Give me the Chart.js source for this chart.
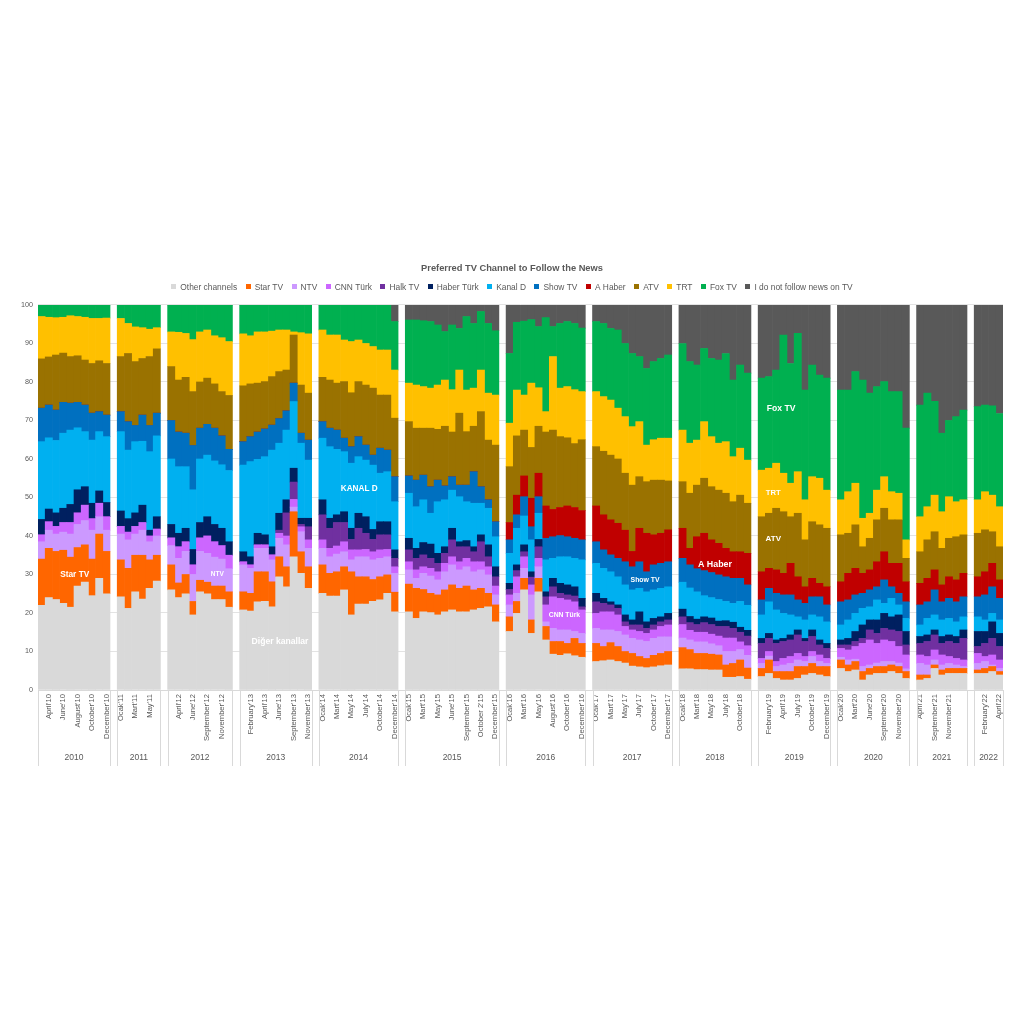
<!DOCTYPE html>
<html lang="en">
<head>
<meta charset="utf-8">
<title>Preferred TV Channel to Follow the News</title>
<script src="https://cdn.jsdelivr.net/npm/chart.js@4.4.1/dist/chart.umd.min.js"></script>
<style>
html,body{margin:0;padding:0;background:#ffffff;}
#box{position:relative;width:1024px;height:1024px;}
</style>
</head>
<body>
<div id="box"><canvas id="chart" width="1024" height="1024"></canvas></div>
<script>
const FONT = '"Liberation Sans", Arial, Helvetica, sans-serif';
const TEXT_COLOR = '#595959';
const chartTitle = 'Preferred TV Channel to Follow the News';

const years = ['2010','2011','2012','2013','2014','2015','2016','2017','2018','2019','2020','2021','2022'];
const yearSizes = [10, 6, 9, 10, 11, 13, 11, 11, 10, 10, 10, 7, 4];

const monthLabels = [
  '', "April'10", '', "June'10", '', "August'10", '', "October'10", '', "December'10",
  "Ocak'11", '', "Mart'11", '', "May'11", '',
  '', "April'12", '', "June'12", '', "September'12", '', "November'12", '',
  '', "February'13", '', "April'13", '', "June'13", '', "September'13", '', "November'13",
  "Ocak'14", '', "Mart'14", '', "May'14", '', "July'14", '', "October'14", '', "December'14",
  "Ocak'15", '', "Mart'15", '', "May'15", '', "June'15", '', "September'15", '', "October 2'15", '', "December'15",
  "Ocak'16", '', "Mart'16", '', "May'16", '', "August'16", '', "October'16", '', "December'16",
  "Ocak'17", '', "Mart'17", '', "May'17", '', "July'17", '', "October'17", '', "December'17",
  "Ocak'18", '', "Mart'18", '', "May'18", '', "July'18", '', "October'18", '',
  '', "February'19", '', "April'19", '', "July'19", '', "October'19", '', "December'19",
  "Ocak'20", '', "Mart'20", '', "June'20", '', "September'20", '', "November'20", '',
  "April'21", '', "September'21", '', "November'21", '', '',
  '', "February'22", '', "April'22"
];

const seriesNames = ['Other channels','Star TV','NTV','CNN Türk','Halk TV','Haber Türk','Kanal D','Show TV','A Haber','ATV','TRT','Fox TV','I do not follow news on TV'];
const seriesColors = ['#D9D9D9','#FF6600','#CC99FF','#CC66FF','#7030A0','#002060','#00B0F0','#0070C0','#C00000','#9A7200','#FFC000','#00B050','#595959'];

const otherChannels = [
  22, 24, 23.5, 22.5, 21.5, 27, 28, 24.5, 29, 25,
  24.2, 21.2, 25.5, 23.6, 26.4, 28.3,
  26, 24, 25, 19.5, 25.5, 25, 23.5, 23.5, 21.5,
  20.8, 20.5, 22.9, 23, 21.6, 29.4, 26.8, 34.6, 30.3, 26.4,
  25.1, 24.4, 24.4, 26, 19.5, 22.3, 22.3, 23, 23.4, 25.1, 20.3,
  20.3, 18.6, 20.3, 20.1, 19.5, 20.3, 20.8, 20.3, 20.3, 20.8, 21.2, 21.6, 17.7,
  15.2, 19.9, 26, 14.7, 25.5, 13, 9.3, 9.0, 9.4, 8.9, 8.5,
  7.4, 7.6, 7.8, 7.4, 7, 6.2, 6, 5.8, 6, 6.3, 6.5,
  5.5, 5.5, 5.3, 5.3, 5.2, 5.2, 3.3, 3.3, 3.5, 2.8,
  3.5, 4.3, 3, 2.6, 2.6, 3, 3.9, 4.3, 3.9, 3.5,
  5.6, 4.8, 5.2, 2.6, 3.9, 4.3, 4.3, 4.8, 4.3, 3,
  2.6, 3, 5.6, 3.9, 4.3, 4.3, 4.3,
  4.3, 4.3, 4.8, 3.9
];
const starTV = [
  12, 12.8, 12.5, 13.8, 13, 10, 9.7, 9.5, 11.5, 11,
  9.6, 10.4, 9.5, 11.4, 7.4, 6.7,
  6.5, 3.8, 5, 3.5, 3, 3, 3.5, 3.5, 4,
  4.7, 4.6, 7.8, 7.7, 6.5, 5.2, 5.2, 11.7, 5.6, 5.6,
  7.4, 5.9, 6.3, 6, 11.2, 7.1, 7.1, 5.7, 6, 4.8, 5.1,
  7.2, 7.8, 5.8, 5, 5.2, 5.7, 6.5, 6.1, 6.7, 5.2, 5.2, 3.5, 4.4,
  3.8, 3.1, 3, 3.5, 3.5, 3.5, 3.3, 3.6, 2.7, 4.5, 3.6,
  4.7, 3.7, 4.5, 3.9, 3, 3.3, 2.7, 2.4, 3, 3.2, 3.5,
  5.5, 5, 4.2, 4.2, 4.1, 3.9, 3.2, 3.6, 4.3, 2.9,
  2.1, 3.5, 1.8, 2.2, 2.2, 3.1, 2.2, 2.6, 2.2, 2.6,
  2.2, 1.7, 2.2, 2.2, 1.7, 1.8, 1.8, 1.7, 1.8, 1.8,
  1.3, 0.9, 0.9, 1.3, 1.3, 1.3, 1.3,
  0.9, 1.3, 1.3, 0.9
];
const ntv = [
  4.5, 4.7, 4.5, 4.7, 6, 6, 6.3, 7.5, 4.5, 5.5,
  6.7, 7.4, 5.5, 6.5, 4.7, 5,
  5, 6.4, 6, 7, 7.5, 7.5, 7.5, 7, 6,
  7, 6.5, 6.1, 6.1, 5.7, 4.8, 5.7, 1.2, 5.2, 4.8,
  4.3, 4.3, 4.6, 3.9, 3.1, 5.2, 5.2, 5.1, 4.8, 4.7, 4.9,
  3.7, 2.6, 4.2, 4.5, 3.9, 4.7, 5.2, 4.8, 5, 4.7, 4.8, 4.8, 2.6,
  3.1, 2.1, 2.6, 6.5, 3, 1.2, 3.4, 3, 3.5, 1.8, 2.6,
  3.9, 4.3, 3.3, 3.9, 4.3, 3.9, 4.3, 4.4, 4.4, 4.3, 3.8,
  2.5, 2.5, 3, 3, 2.7, 2.4, 3.5, 3.1, 2.7, 3.3,
  1.3, 1, 1.3, 1.7, 2.1, 1.7, 1.3, 1.8, 1.3, 0.8,
  0.7, 1.3, 0.6, 1.3, 0.9, 0.9, 1.3, 0.9, 0.9, 0.7,
  3, 2.6, 1.3, 1.3, 1.3, 0.9, 0.5,
  1.7, 1.8, 0.4, 0.8
];
const cnnTurk = [
  1.8, 2.2, 2, 2.5, 3, 3, 4, 3, 3.5, 3.5,
  2, 2, 2, 2, 1.5, 1.8,
  2, 3, 2.5, 2.5, 3.5, 4.5, 4, 3.5, 3.5,
  0.8, 0.9, 0.9, 0.9, 1.3, 1.3, 2.3, 2, 1.3, 2.2,
  2.2, 2.2, 2.1, 2.6, 2.6, 1.8, 1.9, 2.1, 2.2, 1.9, 1.7,
  2.1, 2.2, 1.7, 2, 2.1, 2.2, 2.1, 2.1, 2.2, 2.6, 2.1, 2.1, 2.3,
  2.6, 4.3, 3, 2.6, 2.2, 4.4, 8.2, 8.2, 7.8, 7.7, 6.1,
  3.9, 4.7, 4.7, 4.3, 2.2, 2.2, 2.2, 2.1, 2.2, 2.7, 3.1,
  3.5, 2.5, 2.5, 2.5, 2.5, 2.5, 3.5, 3.5, 2, 2.5,
  1.3, 1.2, 1.3, 1.7, 1.8, 1.7, 1.3, 1.3, 1.7, 1.3,
  2.3, 2.6, 3.3, 6, 6.5, 5.1, 5.6, 5.2, 4.3, 3.6,
  2.2, 2.2, 2.6, 2.6, 1.8, 1.7, 1.7,
  2.6, 1.3, 2.6, 2.2
];
const halkTV = [
  0, 0, 0, 0, 0, 0, 0, 0, 0, 0,
  0, 0, 0, 0, 0, 0,
  0, 0, 0, 0, 0, 0, 0, 0, 0,
  0, 0, 0, 0, 0, 0.8, 6, 4.5, 0.6, 3.4,
  6.5, 5.2, 6.1, 5, 2.7, 5.6, 4.2, 3.2, 3.9, 3.8, 2.2,
  3.1, 3, 3.1, 2.6, 2.2, 2.6, 4.4, 3.9, 3, 2.6, 5.2, 2.6, 2.4,
  1.4, 1.6, 1.3, 2, 3, 2.1, 2.6, 1.3, 1.3, 1.5, 0.8,
  3, 2.2, 1.8, 1.7, 1.2, 1.3, 1.7, 1.3, 1.3, 1.2, 1.3,
  2, 2, 2, 2.5, 2.5, 2.5, 3, 2.5, 2.5, 2.5,
  3.9, 3.4, 4.7, 4.4, 4.3, 4.8, 3.9, 3.9, 2.6, 2.6,
  0.9, 1.3, 1.3, 1.3, 2.6, 2.6, 3, 3, 3.9, 2.6,
  3, 3.9, 3.9, 3, 3.9, 3.9, 5.6,
  1.8, 3.4, 4.3, 3.5
];
const haberTurk = [
  4, 3.3, 3.5, 3.7, 4.7, 6, 4.8, 4, 3.2, 3.7,
  4, 3.5, 3.5, 4.5, 1.5, 3.2,
  3.5, 3.5, 3.5, 4, 4, 5, 4.5, 4.5, 3.5,
  2.6, 2.1, 3, 2.6, 2.1, 4.4, 3.4, 3.6, 1.6, 2.2,
  3.9, 2.6, 2, 2.8, 2.9, 3.9, 4.3, 2.6, 3.4, 3.4, 2.2,
  3, 2.6, 3.2, 3.7, 2.6, 1.7, 3, 1.3, 1.6, 1.3, 1.8, 3.1, 2.6,
  1.6, 1.5, 1.8, 1.4, 1.9, 1.3, 2.2, 2.6, 2.6, 2.4, 2.2,
  2.2, 1.3, 0.8, 0.9, 1.8, 1.3, 3.4, 1.7, 1.7, 1.3, 1.7,
  2, 1.6, 1.4, 1.5, 1.7, 1.4, 1.5, 1.6, 1.3, 1.5,
  1.3, 1.3, 0.9, 0.8, 1.3, 1.3, 0.8, 1.7, 1.3, 1.3,
  1.3, 1.7, 2.6, 3.5, 2.6, 3.5, 3.9, 3.4, 4.3, 3.5,
  1.8, 1.7, 1.3, 1.8, 1.7, 1.8, 2.2,
  3.9, 3.1, 4.3, 3.4
];
const kanalD = [
  20.2, 18.5, 18.8, 19.5, 19.3, 16.1, 14.3, 16.4, 15.4, 17.1,
  20.6, 17.8, 18.5, 16.6, 20.4, 21,
  17, 17.3, 16, 15.5, 16.5, 16, 16.5, 16.5, 18.5,
  22.5, 24.7, 19.2, 20.3, 25.1, 18.2, 18.1, 17.3, 19.5, 15.1,
  16, 18.6, 17, 15.6, 16.9, 14.7, 14.7, 16.7, 12.6, 13, 12.5,
  11.7, 10.8, 11.1, 8, 13.4, 12.2, 9.9, 11.7, 10.1, 11.3, 8.2, 9.5, 7.8,
  7.8, 9.5, 7.5, 8.3, 6.8, 8.3, 5.2, 6.9, 7.3, 7.4, 10,
  7.8, 7.8, 7.8, 7.3, 7.8, 7.8, 6.1, 7.8, 7.4, 7.4, 6.9,
  7, 7.4, 7.1, 5.5, 5.3, 5.6, 5, 4.9, 6.7, 6.5,
  6.1, 8.2, 7.8, 6.5, 5.2, 3.4, 4.8, 3.9, 6, 5.6,
  3.9, 4.8, 4.7, 4.3, 3.4, 5.2, 2.6, 4.8, 2.6, 3.4,
  3, 4.3, 3.9, 4.3, 4.3, 3.8, 3.4,
  3.8, 3, 2.2, 3.5
];
const showTV = [
  8.7, 8.5, 7.9, 8, 7, 6.6, 6.9, 7, 5.2, 5.6,
  5.2, 7.4, 4.2, 6.8, 6.8, 5.9,
  10, 9, 8.7, 11.5, 8, 8, 8.5, 7.5, 5.5,
  6.1, 6.5, 7.1, 7.2, 6.5, 6.4, 5, 4.8, 2.6, 5.2,
  4.3, 4.8, 5, 3.5, 4.3, 5.2, 3.9, 2.6, 6.5, 5.6, 6.5,
  4.5, 6.9, 6.4, 6.9, 5.6, 3.6, 3.5, 3, 4.3, 8.2, 4.3, 2.2, 3.9,
  3.5, 3.5, 5, 3.4, 4.3, 5.6, 5.6, 5.5, 5.2, 5.2, 5.2,
  5.6, 4.8, 4.4, 4.8, 6, 6, 6.9, 5.2, 6.5, 6.5, 6.5,
  6.2, 6, 6, 6.5, 6.5, 6.4, 6.4, 6.5, 6, 5.3,
  3.9, 3.5, 4.3, 4.8, 5.2, 4.4, 4.3, 4.7, 5.2, 4.4,
  6, 5.2, 4.8, 3.9, 4.4, 3.4, 6.1, 3, 3, 4.3,
  5.2, 4.3, 6.5, 4.7, 5.2, 5.2, 5.2,
  5.2, 6.5, 6.9, 5.6
];
const aHaber = [
  0, 0, 0, 0, 0, 0, 0, 0, 0, 0,
  0, 0, 0, 0, 0, 0,
  0, 0, 0, 0, 0, 0, 0, 0, 0,
  0, 0, 0, 0, 0, 0, 0, 0, 0, 0,
  0, 0, 0, 0, 0, 0, 0, 0, 0, 0, 0,
  0, 0, 0, 0, 0, 0, 0, 0, 0, 0, 0, 0, 0,
  4.5, 5.1, 5.4, 7.4, 6.1, 8.4, 7.1, 7.3, 8, 8, 7.6,
  9.3, 9.1, 9.1, 9.1, 8.2, 4, 8.7, 10, 7.8, 7.8, 8.3,
  7.8, 4.3, 8.3, 9.7, 8.5, 8.2, 7.4, 6.9, 6.9, 8.2,
  7.3, 5.2, 6.1, 5.6, 8.2, 6, 4.3, 4.8, 3.5, 4.7,
  5.2, 6.9, 6.9, 5.2, 5.2, 6.5, 7.3, 6.1, 7.8, 5.2,
  5.6, 6.1, 5.2, 4.4, 5.6, 5.7, 6.1,
  5.2, 6, 6.1, 4.8
];
const atv = [
  12.8, 12.5, 14.3, 12.8, 12.1, 12.1, 11.7, 12.9, 13.2, 13.4,
  14.3, 17.7, 16.6, 14.7, 17.9, 16.7,
  14, 13.5, 14.5, 14, 12, 12, 11.5, 11.5, 14,
  14.5, 13.7, 12.7, 12.3, 12.6, 12.2, 10.6, 12.5, 12.5, 12.2,
  11.5, 12.5, 12.2, 14.7, 14, 14.3, 15.6, 17.4, 13.8, 14.3, 15.2,
  14.1, 13.5, 12.2, 15.2, 13.2, 15.5, 11.6, 18.7, 13.9, 11.8, 19.5, 15.5, 19.9,
  14.5, 15.4, 11.9, 13.2, 12.2, 19.2, 20.6, 18.4, 17.7, 16.6, 18.4,
  15.4, 16.5, 16.8, 16.7, 14.8, 17.2, 13.4, 13.4, 14.2, 13.8, 12.7,
  12.1, 14.3, 13.4, 14.3, 13.8, 13.8, 14.3, 13, 14.7, 13,
  14.3, 14.3, 16, 16, 12.1, 16.5, 12.2, 14.7, 15.2, 15.2,
  12.2, 10.4, 11.3, 6.9, 8.2, 10.9, 11.3, 11.3, 11.3, 6.1,
  8.2, 10, 9.9, 9.5, 10, 11.2, 10,
  11.3, 10.9, 8.2, 8.6
];
const trt = [
  11, 10.3, 9.7, 9.3, 10.6, 10.2, 11.1, 11.7, 11, 11.8,
  9.9, 7.8, 9, 8, 7.1, 5.5,
  9, 12.4, 11.4, 13.5, 13, 12.5, 12.5, 14, 14,
  13.5, 12.5, 13.3, 12.9, 11.8, 10.8, 10.4, 0.8, 13.6, 15.4,
  12.3, 11.7, 12.5, 10.8, 13.3, 10.8, 10.8, 10.8, 11.7, 11.7, 12.5,
  10, 11.2, 10.8, 10.4, 11.5, 12, 11, 11.2, 10.8, 9.9, 10.8, 12.2, 13,
  11.3, 11.9, 9.1, 16.7, 10, 5.3, 19.1, 12.6, 13.3, 14, 12.5,
  14.3, 14.2, 14.3, 13.2, 14.7, 15.2, 14.3, 9.5, 10.5, 10.9, 11.1,
  13.4, 13, 11.7, 14.7, 13, 12.2, 13.4, 11.7, 12.2, 11.2,
  12.1, 11.7, 11.7, 10, 8.7, 10.8, 10.4, 11.7, 12.1, 9.9,
  9.1, 10.8, 10.8, 7.4, 6.5, 7.7, 8.2, 7.3, 6.9, 4.8,
  9.1, 8.6, 9.5, 9.5, 10.8, 9.1, 9.1,
  8.7, 9.9, 9.5, 10.4
];
const foxTV = [
  3, 3.2, 3.3, 3.2, 2.8, 3, 3.2, 3.5, 3.5, 3.4,
  3.5, 4.8, 5.7, 5.9, 6.3, 5.9,
  7, 7.1, 7.4, 9, 7, 6.5, 8, 8.5, 9.5,
  7.5, 8, 7, 7, 6.8, 6.5, 6.5, 7, 7.2, 7.5,
  6.5, 7.8, 7.8, 9.1, 9.5, 9.1, 10, 10.8, 11.7, 11.7, 12.6,
  16.4, 16.9, 17.1, 17.3, 15.6, 12.6, 16.8, 10.8, 19.1, 16.8, 15.2, 18.1, 16.7,
  18.1, 17.6, 19.2, 16.5, 15.9, 24.4, 7.8, 16.8, 16.9, 17.2, 16.5,
  18.2, 19, 18.6, 20.3, 19, 19, 16.9, 19.9, 20.3, 20.7, 21.6,
  22.5, 21.2, 19.5, 19, 20.3, 21.6, 22.9, 19.9, 21.6, 22.6,
  23.9, 23.8, 24.2, 35.9, 31.1, 35.9, 28.5, 29, 26.8, 29.1,
  28.5, 26.4, 29, 35.9, 31.2, 26.9, 24.7, 26, 26.4, 29,
  29, 29.5, 24.4, 20.4, 19.8, 22.1, 23.3,
  24.2, 22.5, 23.2, 24.2
];
const noFollow = [
  0, 0, 0, 0, 0, 0, 0, 0, 0, 0,
  0, 0, 0, 0, 0, 0,
  0, 0, 0, 0, 0, 0, 0, 0, 0,
  0, 0, 0, 0, 0, 0, 0, 0, 0, 0,
  0, 0, 0, 0, 0, 0, 0, 0, 0, 0, 4.3,
  3.9, 3.9, 4.1, 4.3, 5.2, 6.9, 5.2, 6.1, 3, 4.8, 1.7, 4.8, 6.7,
  12.6, 4.5, 4.2, 3.8, 5.6, 3.3, 5.6, 4.8, 4.3, 4.8, 6,
  4.3, 4.8, 6.1, 6.5, 10, 12.6, 13.4, 16.5, 14.7, 13.9, 13,
  10, 14.7, 15.6, 11.3, 13.9, 14.3, 12.6, 19.5, 15.6, 17.7,
  19, 18.6, 16.9, 7.8, 15.2, 7.4, 22.1, 15.6, 18.2, 19,
  22.1, 22.1, 17.3, 19.5, 22.9, 21.2, 19.9, 22.5, 22.5, 32,
  26, 22.9, 25, 33.3, 30, 29, 27.3,
  26.4, 26, 26.2, 28.6
];

// in-bar text labels (position given in axis slot / value coordinates)
const segmentLabels = [
  { text: 'Star TV',        slot: 4.6,   value: 29.9, size: 8.3 },
  { text: 'NTV',            slot: 24.4,  value: 30.1, size: 6.5 },
  { text: 'Diğer kanallar', slot: 33.1,  value: 12.5, size: 8.6 },
  { text: 'KANAL D',        slot: 44.1,  value: 52.2, size: 8.2 },
  { text: 'CNN Türk',       slot: 72.6,  value: 19.5, size: 6.8 },
  { text: 'Show TV',        slot: 83.8,  value: 28.6, size: 6.9 },
  { text: 'A Haber',        slot: 93.5,  value: 32.5, size: 8.9 },
  { text: 'Fox TV',         slot: 102.7, value: 73,   size: 8.6 },
  { text: 'TRT',            slot: 101.6, value: 51.2, size: 7.7 },
  { text: 'ATV',            slot: 101.6, value: 39.2, size: 8 }
];

const seriesValues = [otherChannels, starTV, ntv, cnnTurk, halkTV, haberTurk, kanalD, showTV, aHaber, atv, trt, foxTV, noFollow];

function withGaps(arr, gapValue) {
  const out = [];
  let p = 0;
  yearSizes.forEach((n, g) => {
    for (let i = 0; i < n; i++) out.push(arr[p + i]);
    p += n;
    if (g < yearSizes.length - 1) out.push(gapValue);
  });
  return out;
}

const labels = withGaps(monthLabels, '');
const datasets = seriesNames.map((name, i) => ({
  label: name,
  data: withGaps(seriesValues[i], null),
  backgroundColor: seriesColors[i],
  borderWidth: 0
}));

const yearAxisPlugin = {
  id: 'yearAxis',
  afterDraw(chart) {
    const { ctx, chartArea } = chart;
    const x = chart.scales.x;
    const top = chartArea.bottom;
    const bottom = chartArea.bottom + 76;
    ctx.save();
    ctx.strokeStyle = '#D9D9D9';
    ctx.lineWidth = 1;
    ctx.fillStyle = TEXT_COLOR;
    ctx.font = '8.5px ' + FONT;
    ctx.textAlign = 'center';
    ctx.textBaseline = 'middle';
    let start = 0;
    years.forEach((yr, g) => {
      const n = yearSizes[g];
      const left = x.getPixelForValue(start - 0.5);
      const right = x.getPixelForValue(start + n - 0.5);
      [left, right].forEach(px => {
        const xx = Math.round(px) + 0.5;
        ctx.beginPath();
        ctx.moveTo(xx, top);
        ctx.lineTo(xx, bottom);
        ctx.stroke();
      });
      ctx.fillText(yr, (left + right) / 2, top + 68);
      start += n + 1;
    });
    ctx.restore();
  }
};

const segmentLabelPlugin = {
  id: 'segmentLabels',
  afterDatasetsDraw(chart) {
    const { ctx } = chart;
    const x = chart.scales.x, y = chart.scales.y;
    ctx.save();
    ctx.fillStyle = '#FFFFFF';
    ctx.textAlign = 'center';
    ctx.textBaseline = 'middle';
    segmentLabels.forEach(l => {
      ctx.font = 'bold ' + l.size + 'px ' + FONT;
      ctx.fillText(l.text, x.getPixelForValue(l.slot), y.getPixelForValue(l.value));
    });
    ctx.restore();
  }
};

const legendPlugin = {
  id: 'topLegend',
  afterDraw(chart) {
    const { ctx, chartArea } = chart;
    ctx.save();
    ctx.font = '8.4px ' + FONT;
    ctx.textBaseline = 'middle';
    ctx.textAlign = 'left';
    const box = 5, gap = 4, pad = 8.5;
    const widths = seriesNames.map(n => box + gap + ctx.measureText(n).width);
    const total = widths.reduce((a, b) => a + b, 0) + pad * (widths.length - 1);
    let cx = chart.width / 2 - total / 2;
    const cy = chartArea.top - 18;
    seriesNames.forEach((n, i) => {
      ctx.fillStyle = seriesColors[i];
      ctx.fillRect(Math.round(cx), Math.round(cy - box / 2), box, box);
      ctx.fillStyle = TEXT_COLOR;
      ctx.fillText(n, cx + box + gap, cy + 0.5);
      cx += widths[i] + pad;
    });
    ctx.restore();
  }
};

new Chart(document.getElementById('chart'), {
  type: 'bar',
  data: { labels, datasets },
  options: {
    responsive: false,
    animation: false,
    devicePixelRatio: 1,
    layout: { padding: { top: 250, left: 21, right: 21, bottom: 259 } },
    datasets: { bar: { categoryPercentage: 1, barPercentage: 1, borderWidth: 0 } },
    plugins: {
      title: {
        display: true,
        text: chartTitle,
        color: TEXT_COLOR,
        font: { family: FONT, size: 9.3, weight: 'bold' },
        padding: { top: 12.4, bottom: 31.4 }
      },
      legend: { display: false },
      tooltip: { enabled: false }
    },
    scales: {
      x: {
        stacked: true,
        grid: { display: false, drawTicks: false },
        border: { display: true, color: '#D9D9D9' },
        ticks: {
          autoSkip: false, maxRotation: 90, minRotation: 90,
          color: TEXT_COLOR, font: { family: FONT, size: 7.6 }, padding: 4
        },
        afterFit: s => { s.height = 75; }
      },
      y: {
        stacked: true,
        min: 0, max: 100,
        ticks: { stepSize: 10, color: TEXT_COLOR, font: { family: FONT, size: 7.2 }, padding: 5 },
        grid: { color: '#E3E3E3', drawTicks: false },
        border: { display: false },
        afterFit: s => { s.width = 17; }
      }
    }
  },
  plugins: [yearAxisPlugin, segmentLabelPlugin, legendPlugin]
});
</script>
</body>
</html>
